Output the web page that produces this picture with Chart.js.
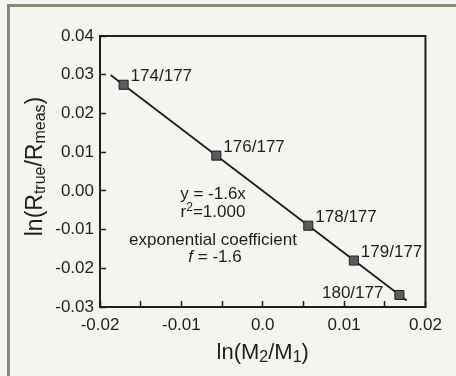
<!DOCTYPE html>
<html>
<head>
<meta charset="utf-8">
<script src="https://cdn.jsdelivr.net/npm/chart.js@4/dist/chart.umd.min.js"></script>
<style>
  html, body { margin: 0; padding: 0; background: #f4f4f1; }
  #wrap { position: relative; width: 456px; height: 376px; overflow: hidden; }
  #edge { position: absolute; left: 7px; top: 4px; right: -4px; bottom: -4px;
          border-top: 3px solid #8a8a75; border-left: 3px solid #8a8a75; }
  canvas { position: absolute; left: 0; top: 0; }
</style>
</head>
<body>
<div id="wrap"><div id="edge"></div><canvas id="c" width="456" height="376"></canvas></div>
<script>
// Isotope pairs and their log ratios
const isotopeLabels = ['174/177', '176/177', '178/177', '179/177', '180/177'];
const lnMassRatio = [-0.0171, -0.0057, 0.0056, 0.0112, 0.0168];
const lnRatioCorrection = [0.0274, 0.0091, -0.0090, -0.0180, -0.0269];

// Linear fit through the origin
const fitSlope = -1.6;
const fitRange = [-0.0187, 0.0177];

// Axis tick labels
const xTickLabels = ['-0.02', '-0.01', '0.0', '0.01', '0.02'];
const yTickLabels = ['0.04', '0.03', '0.02', '0.01', '0.00', '-0.01', '-0.02', '-0.03'];

const FONT = '"Liberation Sans", Arial, Helvetica, sans-serif';
const INK = '#1e1e1e';

function tickText(labels, value) {
  const v = Math.round(value * 1000) / 1000;
  const hit = labels.find(l => Math.abs(parseFloat(l) - v) < 1e-9);
  return hit === undefined ? '' : hit;
}

// Draws a run of text pieces (normal / sub / sup / italic) centred on a point
function drawRich(ctx, parts, x, y) {
  let total = 0;
  parts.forEach(p => { ctx.font = p.font; p.w = ctx.measureText(p.t).width; total += p.w; });
  let cx = x - total / 2;
  ctx.textAlign = 'left';
  ctx.textBaseline = 'middle';
  parts.forEach(p => { ctx.font = p.font; ctx.fillText(p.t, cx, y + (p.dy || 0)); cx += p.w; });
}

const big = '22px ' + FONT, bigY = '23px ' + FONT, sub = '16px ' + FONT;
const txt = '17px ' + FONT, small = '12px ' + FONT, ital = 'italic 17px ' + FONT;

const decorations = {
  id: 'decorations',
  afterDraw(chart) {
    const ctx = chart.ctx;
    const a = chart.chartArea;
    ctx.save();
    // plot frame
    ctx.strokeStyle = INK;
    ctx.lineWidth = 2;
    ctx.strokeRect(a.left, a.top, a.right - a.left, a.bottom - a.top);

    ctx.fillStyle = INK;
    // point labels
    const pts = chart.getDatasetMeta(1).data;
    ctx.font = txt;
    ctx.textBaseline = 'middle';
    pts.forEach((el, i) => {
      if (i === pts.length - 1) {
        ctx.textAlign = 'right';
        ctx.fillText(isotopeLabels[i], el.x - 16, el.y - 2);
      } else {
        ctx.textAlign = 'left';
        ctx.fillText(isotopeLabels[i], el.x + 7, el.y - 8);
      }
    });

    // fit summary
    const cx = a.left + 113;
    drawRich(ctx, [{ t: 'y = ' + fitSlope.toFixed(1) + 'x', font: txt }], cx, a.top + 158);
    drawRich(ctx, [{ t: 'r', font: txt }, { t: '2', font: small, dy: -4 }, { t: '=1.000', font: txt }], cx, a.top + 176);
    drawRich(ctx, [{ t: 'exponential coefficient', font: txt }], cx, a.top + 204);
    drawRich(ctx, [{ t: 'f', font: ital }, { t: ' = ' + fitSlope.toFixed(1), font: txt }], cx + 2, a.top + 221);

    // axis titles
    drawRich(ctx, [
      { t: 'ln(M', font: big }, { t: '2', font: sub, dy: 5 },
      { t: '/M', font: big }, { t: '1', font: sub, dy: 5 }, { t: ')', font: big }
    ], (a.left + a.right) / 2, 353);

    ctx.translate(36, (a.top + a.bottom) / 2 - 5);
    ctx.rotate(-Math.PI / 2);
    drawRich(ctx, [
      { t: 'ln(R', font: bigY }, { t: 'true', font: sub, dy: 5 },
      { t: '/R', font: bigY }, { t: 'meas', font: sub, dy: 5 }, { t: ')', font: bigY }
    ], 0, 0);
    ctx.restore();
  }
};

new Chart(document.getElementById('c').getContext('2d'), {
  type: 'scatter',
  data: {
    datasets: [
      {
        type: 'line',
        data: fitRange.map(x => ({ x, y: fitSlope * x })),
        borderColor: '#1a1a1a',
        borderWidth: 1.7,
        pointRadius: 0,
        fill: false,
        order: 2
      },
      {
        type: 'scatter',
        data: lnMassRatio.map((x, i) => ({ x, y: lnRatioCorrection[i] })),
        pointStyle: 'rect',
        pointRadius: 6.4,
        backgroundColor: '#5c5c5c',
        borderColor: '#1e1e1e',
        borderWidth: 1,
        order: 1
      }
    ]
  },
  options: {
    responsive: false,
    animation: false,
    devicePixelRatio: 1,
    layout: { padding: { left: 0, right: 29, top: 36, bottom: 39 } },
    plugins: { legend: { display: false }, tooltip: { enabled: false } },
    scales: {
      x: {
        type: 'linear',
        min: -0.02, max: 0.02,
        border: { display: false },
        grid: { drawOnChartArea: false, tickLength: -6, tickWidth: 1.5, tickColor: INK },
        ticks: {
          stepSize: 0.005, autoSkip: false, maxRotation: 0, padding: 14,
          color: INK, font: { family: FONT, size: 17 },
          callback: v => tickText(xTickLabels, v)
        },
        afterFit: s => { s.height = 30; }
      },
      y: {
        type: 'linear',
        min: -0.03, max: 0.04,
        border: { display: false },
        grid: { drawOnChartArea: false, tickLength: -6, tickWidth: 1.5, tickColor: INK },
        ticks: {
          stepSize: 0.01, autoSkip: false, padding: 12,
          color: INK, font: { family: FONT, size: 17 },
          callback: v => tickText(yTickLabels, v)
        },
        afterFit: s => { s.width = 100; }
      }
    }
  },
  plugins: [decorations]
});
</script>
</body>
</html>
